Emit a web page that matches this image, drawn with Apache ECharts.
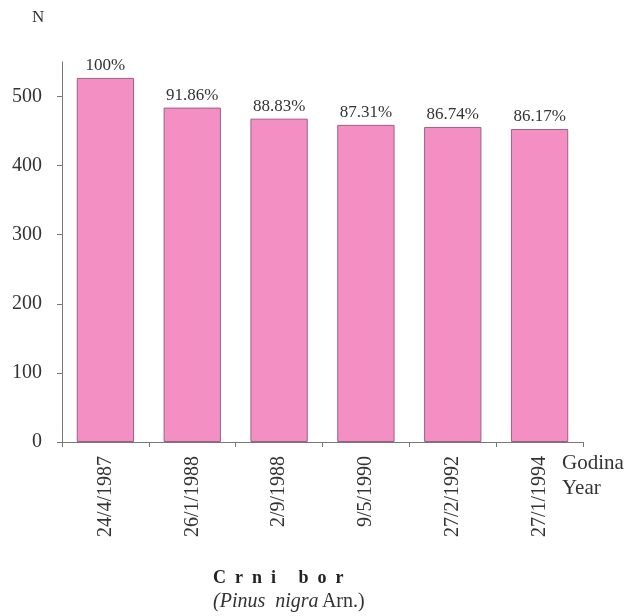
<!DOCTYPE html>
<html>
<head>
<meta charset="utf-8">
<script src="https://cdn.jsdelivr.net/npm/echarts@6/dist/echarts.min.js"></script>
<style>html,body{margin:0;padding:0;background:#fff}#c{width:628px;height:616px}</style>
</head>
<body>
<div id="c"></div>
<script>
const categories = ['24/4/1987','26/1/1988','2/9/1988','9/5/1990','27/2/1992','27/1/1994'];
const values = [527, 484, 468, 459, 456, 453];
const percentLabels = ['100%','91.86%','88.83%','87.31%','86.74%','86.17%'];
const yTicks = [0, 100, 200, 300, 400, 500];

const FONT = '"Liberation Serif", "DejaVu Serif", serif';
const chart = echarts.init(document.getElementById('c'), null, {renderer: 'canvas'});
chart.setOption({
  animation: false,
  backgroundColor: '#ffffff',
  grid: {left: 62, right: 45, top: 62, bottom: 174, containLabel: false},
  xAxis: {
    type: 'category',
    data: categories,
    axisLine: {lineStyle: {color: '#777', width: 1}},
    axisTick: {show: true, length: 5, lineStyle: {color: '#777'}},
    axisLabel: {rotate: 90, margin: 14, fontFamily: FONT, fontSize: 20, color: '#333'}
  },
  yAxis: {
    type: 'value',
    min: 0, max: 550, interval: 100,
    splitLine: {show: false},
    axisLine: {show: true, lineStyle: {color: '#777', width: 1}},
    axisTick: {show: true, length: 5, lineStyle: {color: '#777'}, customValues: yTicks},
    axisLabel: {margin: 20, fontFamily: FONT, fontSize: 20, color: '#333', customValues: yTicks}
  },
  series: [{
    type: 'bar',
    data: values,
    barWidth: '66%',
    itemStyle: {color: '#F48FC4', borderColor: '#9a6282', borderWidth: 1},
    label: {
      show: true, position: 'top', distance: 4,
      fontFamily: FONT, fontSize: 17, color: '#333',
      formatter: p => percentLabels[p.dataIndex]
    }
  }],
  graphic: [
    {type: 'text', left: 32, top: 9, style: {text: 'N', font: '17px ' + FONT, fill: '#333'}},
    {type: 'text', left: 562, top: 451, style: {text: 'Godina\nYear', font: '21px ' + FONT, fill: '#333', lineHeight: 25}},
    {type: 'text', left: 213, top: 569, style: {text: 'C  r  n  i     b  o  r', font: 'bold 18px ' + FONT, fill: '#222'}},
    {type: 'text', left: 213, top: 592, style: {
      text: '{i|(Pinus  nigra} {n|Arn.)}',
      rich: {
        i: {fontFamily: FONT, fontStyle: 'italic', fontSize: 20, fill: '#333'},
        n: {fontFamily: FONT, fontSize: 20, fill: '#333'}
      }
    }}
  ]
});
</script>
</body>
</html>
